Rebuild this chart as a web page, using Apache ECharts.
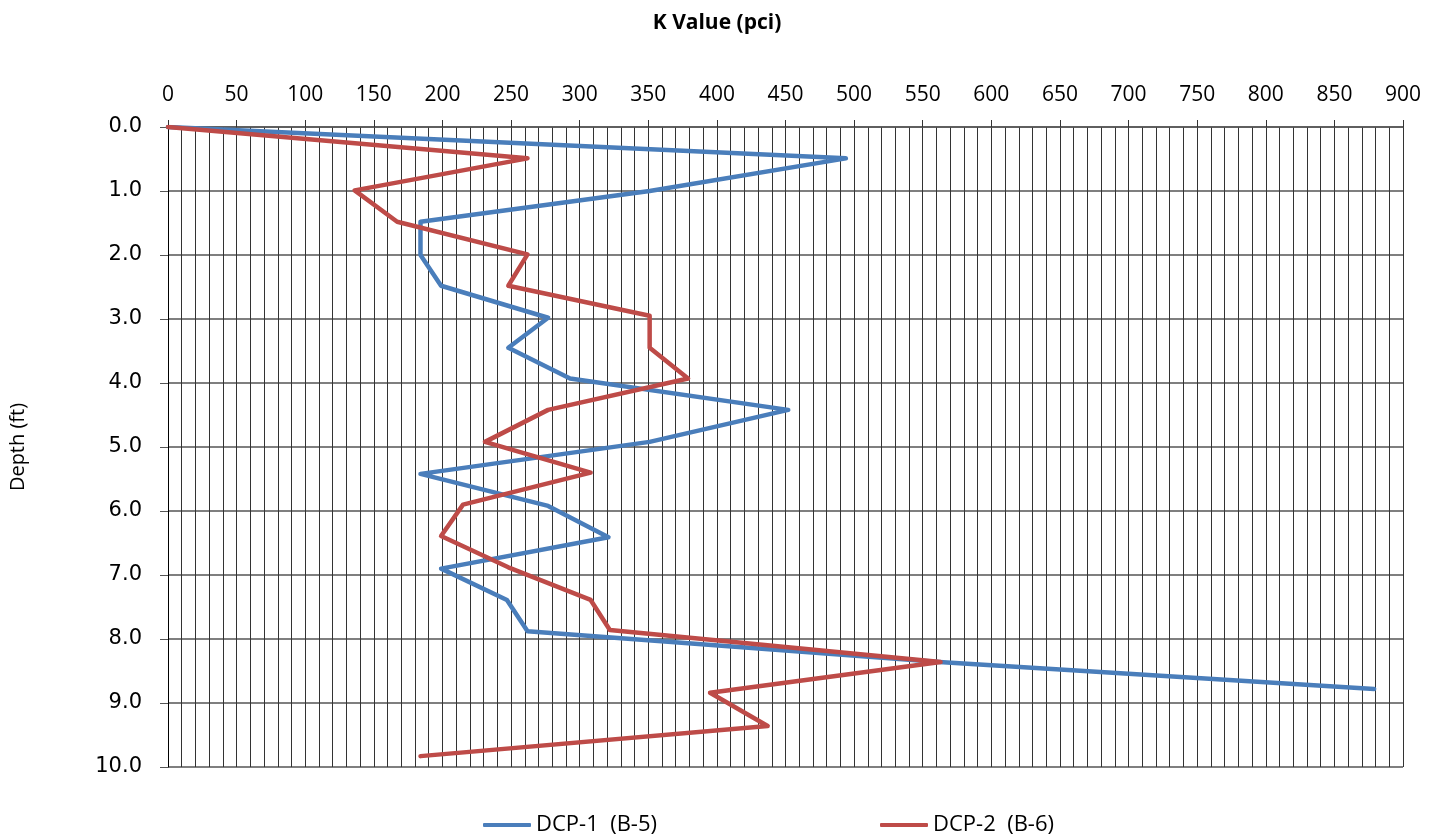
<!DOCTYPE html>
<html>
<head>
<meta charset="utf-8">
<script src="https://cdn.jsdelivr.net/npm/echarts@6/dist/echarts.min.js"></script>
<style>
html,body{margin:0;padding:0;background:#fff;}
#chart{width:1440px;height:840px;}
</style>
</head>
<body>
<div id="chart"></div>
<script>
// Series 1: DCP-1 (B-5) — K value (pci) vs depth (ft)
const dcp1K     = [0, 494, 351, 184, 184, 199, 277, 248, 293, 452, 351, 184, 277, 321, 199, 247, 262, 562, 879];
const dcp1Depth = [0, 0.49, 1.0, 1.48, 2.0, 2.48, 2.98, 3.45, 3.93, 4.42, 4.92, 5.42, 5.92, 6.41, 6.9, 7.39, 7.88, 8.36, 8.78];
// Series 2: DCP-2 (B-6)
const dcp2K     = [0, 262, 136, 167, 262, 248, 351, 351, 379, 277, 231, 308, 215, 199, 248, 308, 322, 563, 395, 437, 184];
const dcp2Depth = [0, 0.49, 0.99, 1.48, 1.99, 2.48, 2.95, 3.45, 3.93, 4.42, 4.92, 5.40, 5.90, 6.39, 6.88, 7.39, 7.86, 8.36, 8.84, 9.36, 9.83];

const seriesNames = ['DCP-1  (B-5)', 'DCP-2  (B-6)'];
const xTitle = 'K Value (pci)';
const yTitle = 'Depth (ft)';

const pairs = (xs, ys) => xs.map((x, i) => [x, ys[i]]);

const chart = echarts.init(document.getElementById('chart'), null, {renderer: 'canvas'});
const vColor = '#333333';
const hColor = '#555555';
chart.setOption({
  animation: false,
  backgroundColor: '#ffffff',
  title: {
    text: xTitle,
    left: 712, top: 8, textAlign: 'center',
    textStyle: {fontFamily: 'Open Sans', fontWeight: 'bold', fontSize: 21, color: '#000'}
  },
  grid: {left: 168, right: 37, top: 127, bottom: 73, containLabel: false, outerBoundsMode: 'none'},
  legend: [
    {data: [seriesNames[0]], left: 483, top: 814, padding: 0, itemGap: 0, itemWidth: 48, itemHeight: 4, icon: 'roundRect',
     textStyle: {fontFamily: 'Open Sans', fontSize: 22, color: '#000'}},
    {data: [seriesNames[1]], left: 880, top: 814, padding: 0, itemGap: 0, itemWidth: 48, itemHeight: 4, icon: 'roundRect',
     textStyle: {fontFamily: 'Open Sans', fontSize: 22, color: '#000'}}
  ],
  xAxis: {
    type: 'value', position: 'top', min: 0, max: 900, interval: 50,
    axisLine: {show: true, lineStyle: {color: hColor, width: 1.5}},
    axisTick: {show: true, inside: false, length: 7, lineStyle: {color: vColor}},
    axisLabel: {margin: 21, fontFamily: 'Open Sans', fontSize: 21, color: '#000'},
    splitLine: {show: true, lineStyle: {color: vColor, width: 1}},
    minorTick: {show: false, splitNumber: 5},
    minorSplitLine: {show: true, lineStyle: {color: vColor, width: 1}}
  },
  yAxis: {
    type: 'value', inverse: true, min: 0, max: 10, interval: 1,
    name: yTitle, nameLocation: 'middle', nameRotate: 90, nameGap: 140,
    nameTextStyle: {fontFamily: 'Open Sans', fontSize: 20, color: '#000'},
    axisLine: {show: true, lineStyle: {color: '#000', width: 1}},
    axisTick: {show: true, inside: false, length: 8, lineStyle: {color: hColor}},
    axisLabel: {margin: 26, fontFamily: 'DejaVu Sans', fontSize: 21, color: '#000',
      formatter: v => v.toFixed(1)},
    splitLine: {show: true, lineStyle: {color: hColor, width: 1.5}}
  },
  series: [
    {name: seriesNames[0], type: 'line', data: pairs(dcp1K, dcp1Depth), showSymbol: false,
     color: '#4A7EBB', lineStyle: {width: 4.5, color: '#4A7EBB', cap: 'round', join: 'round'}},
    {name: seriesNames[1], type: 'line', data: pairs(dcp2K, dcp2Depth), showSymbol: false,
     color: '#BE4B48', lineStyle: {width: 4.5, color: '#BE4B48', cap: 'round', join: 'round'}}
  ]
});
</script>
</body>
</html>
